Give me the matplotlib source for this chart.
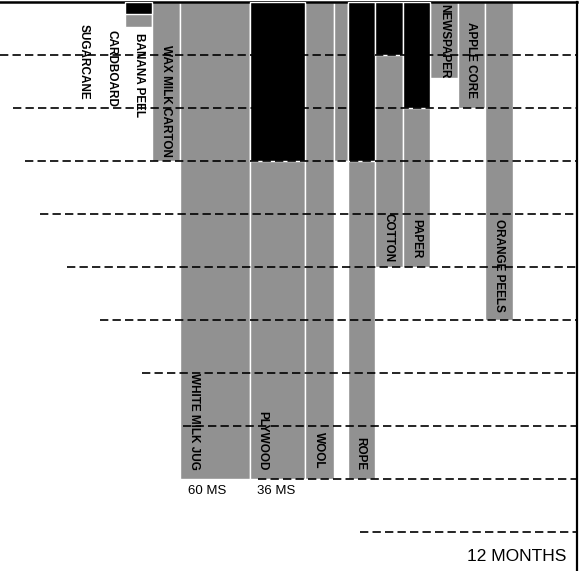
import matplotlib
matplotlib.use("Agg")
import matplotlib.pyplot as plt

# Items, read left to right (label "" = narrow unlabeled strip next to wool)
items = ["SUGARCANE", "CARDBOARD", "BANANA PEEL", "WAX MILK CARTON",
         "WHITE MILK JUG", "PLYWOOD", "WOOL", "", "ROPE", "COTTON",
         "PAPER", "NEWSPAPER", "APPLE CORE", "ORANGE PEELS"]
# black part (minimum) and grey part (maximum), in rows hanging from the top
low_vals = [0, 0, 0.23, 0, 0, 3, 0, 0, 3, 1, 2, 0, 0, 0]
high_vals = [0, 0, 0.47, 3, 9, 9, 9, 3, 9, 5, 5, 1.43, 2, 6]
notes = ["60 MS", "36 MS"]
scale_label = "12 MONTHS"

# layout (not data)
widths = [1, 1, 1, 1, 2.55, 2, 1.05, 0.5, 1, 1, 1, 1, 1, 1]
label_end = [1.85, 1.98, 2.17, 2.92, 8.83, 8.83, 8.8, 0, 8.83, 4.9, 4.83, 1.45, 1.81, 5.85]
label_dx = [0.5, 0.5, 0.5, 0.5, 0.51, 0.43, 0.5, 0.5, 0.45, 0.5, 0.5, 0.5, 0.5, 0.5]
grid_start_px = [0, 13, 25, 40, 67, 100, 142, 183, 258, 360]

PX = 27.5      # pixels per column unit
ORIGIN = 70    # pixel of first column
ROW = 53.0     # pixels per row

lefts = []
pos = 0
for w in widths:
    lefts.append(pos)
    pos += w

fig = plt.figure(figsize=(5.79, 5.71), dpi=100)
ax = fig.add_axes([0, 0, 577 / 579, 569 / 571])
ax.set_xlim(-ORIGIN / PX, (577 - ORIGIN) / PX)
ax.set_ylim(569 / ROW, 0)
ax.set_xticks([])
ax.set_yticks([])
for side in ["left", "bottom"]:
    ax.spines[side].set_visible(False)
ax.spines["top"].set_linewidth(1.8)
ax.spines["right"].set_linewidth(1.6)

grey = "#919191"
for left, w, lo, hi in zip(lefts, widths, low_vals, high_vals):
    if hi > 0:
        ax.bar(left, hi, width=w, bottom=0, align="edge", color=grey,
               edgecolor="white", linewidth=1.0, zorder=2)
    if lo > 0:
        ax.bar(left, lo, width=w, bottom=0, align="edge", color="black",
               edgecolor="white", linewidth=1.0, zorder=3)

# dashed staircase lines
for i, sx in enumerate(grid_start_px):
    x0 = (sx - ORIGIN) / PX
    ax.plot([x0, (577 - ORIGIN) / PX], [i + 1, i + 1], color="black",
            linestyle=(0, (5, 2.5)), linewidth=1.2, zorder=4)

fams = ["Liberation Sans", "DejaVu Sans"]
for name, left, dx, y in zip(items, lefts, label_dx, label_end):
    if not name:
        continue
    ax.text(left + dx, y, name, rotation=-90, ha="center", va="bottom",
            fontsize=8.5, fontweight="bold", family=fams, color="black", zorder=5)

ax.text(lefts[4] + 1.0, 9.23, notes[0], ha="center", va="center",
        fontsize=9.5, family=fams)
ax.text(lefts[5] + 0.95, 9.23, notes[1], ha="center", va="center",
        fontsize=9.5, family=fams)
ax.text((517 - ORIGIN) / PX, 10.47, scale_label, ha="center", va="center",
        fontsize=12.5, family=fams)

fig.savefig("out.png", dpi=100)
